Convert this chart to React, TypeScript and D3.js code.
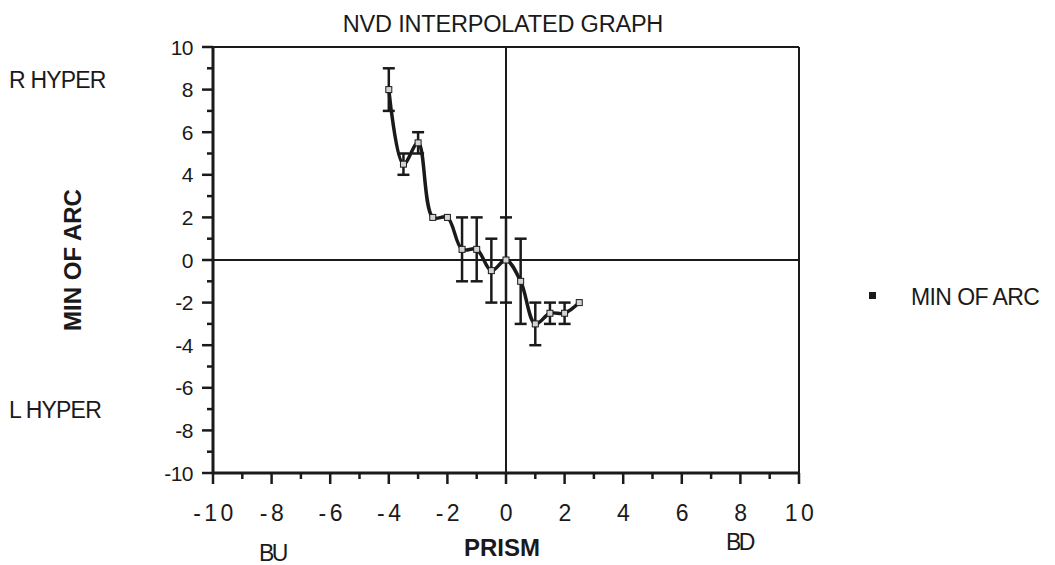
import React from "react";
import * as d3 from "d3";

// PRISM (x) against MIN OF ARC (y), with error ranges
const prism = [-4, -3.5, -3, -2.5, -2, -1.5, -1, -0.5, 0, 0.5, 1, 1.5, 2, 2.5];
const minOfArc = [8, 4.5, 5.5, 2, 2, 0.5, 0.5, -0.5, 0, -1, -3, -2.5, -2.5, -2];
const errHigh = [9, 5, 6, 2, 2, 2, 2, 1, 2, 1, -2, -2, -2, -2];
const errLow = [7, 4, 5, 2, 2, -1, -1, -2, -2, -3, -4, -3, -3, -2];

const xMajorTicks = [-10, -8, -6, -4, -2, 0, 2, 4, 6, 8, 10];
const xMinorTicks = [-9, -7, -5, -3, -1, 1, 3, 5, 7, 9];
const yMajorTicks = [-10, -8, -6, -4, -2, 0, 2, 4, 6, 8, 10];
const yMinorTicks = [-9, -7, -5, -3, -1, 1, 3, 5, 7, 9];

const W = 1055;
const H = 565;
const FONT = "'Liberation Sans', Arial, Helvetica, sans-serif";
const INK = "#1a1a1a";

export default function App() {
  const x = d3.scaleLinear().domain([-10, 10]).range([213, 799]);
  const y = d3.scaleLinear().domain([-10, 10]).range([473, 47]);

  const pts = prism.map((p, i) => ({ x: p, y: minOfArc[i], hi: errHigh[i], lo: errLow[i] }));
  const line = d3
    .line<{ x: number; y: number }>()
    .x((d) => x(d.x))
    .y((d) => y(d.y))
    .curve(d3.curveCatmullRom.alpha(0.5));

  const capHalf = 6;

  return (
    <svg
      width={W}
      height={H}
      style={{ position: "absolute", left: 0, top: 0, background: "#fff" }}
      fontFamily={FONT}
    >
      <rect width={W} height={H} fill="#fff" />

      {/* title */}
      <text x={503} y={32} textAnchor="middle" fontSize={23.5} fill={INK} letterSpacing={-0.2}>
        NVD INTERPOLATED GRAPH
      </text>

      {/* frame */}
      <line x1={x(-10)} x2={x(10)} y1={y(10)} y2={y(10)} stroke={INK} strokeWidth={2} />
      <line x1={x(10)} x2={x(10)} y1={y(10)} y2={y(-10)} stroke={INK} strokeWidth={2} />
      <line x1={x(-10)} x2={x(-10)} y1={y(10) - 1} y2={y(-10) + 1} stroke={INK} strokeWidth={3} />
      <line x1={x(-10) - 1} x2={x(10) + 1} y1={y(-10)} y2={y(-10)} stroke={INK} strokeWidth={3} />

      {/* zero lines */}
      <line x1={x(-10)} x2={x(10)} y1={y(0)} y2={y(0)} stroke={INK} strokeWidth={2} />
      <line x1={x(0)} x2={x(0)} y1={y(10)} y2={y(-10)} stroke={INK} strokeWidth={2} />

      {/* y ticks */}
      {yMajorTicks.map((t) => (
        <g key={"ym" + t}>
          <line x1={x(-10) - 11} x2={x(-10)} y1={y(t)} y2={y(t)} stroke={INK} strokeWidth={2.5} />
          <text x={193} y={y(t) + 7.5} textAnchor="end" fontSize={21} fill={INK} letterSpacing={-0.5}>
            {String(t)}
          </text>
        </g>
      ))}
      {yMinorTicks.map((t) => (
        <line key={"yn" + t} x1={x(-10) - 6} x2={x(-10)} y1={y(t)} y2={y(t)} stroke={INK} strokeWidth={2.5} />
      ))}

      {/* x ticks */}
      {xMajorTicks.map((t) => (
        <g key={"xm" + t}>
          <line x1={x(t)} x2={x(t)} y1={y(-10)} y2={y(-10) + 11} stroke={INK} strokeWidth={2.5} />
          <text x={x(t) + 2} y={521} textAnchor="middle" fontSize={23} fill={INK} letterSpacing={3.5}>
            {String(t)}
          </text>
        </g>
      ))}
      {xMinorTicks.map((t) => (
        <line key={"xn" + t} x1={x(t)} x2={x(t)} y1={y(-10)} y2={y(-10) + 6} stroke={INK} strokeWidth={2.5} />
      ))}

      {/* side labels */}
      <text x={9} y={88} fontSize={23} fill={INK} letterSpacing={-0.8}>R HYPER</text>
      <text x={9} y={418} fontSize={23} fill={INK} letterSpacing={-0.8}>L HYPER</text>
      <text x={259} y={561} fontSize={23} fill={INK} letterSpacing={-2.5}>BU</text>
      <text x={726} y={550} fontSize={23} fill={INK} letterSpacing={-2.5}>BD</text>

      {/* axis titles */}
      <text x={502} y={556} textAnchor="middle" fontSize={24} fontWeight="bold" fill={INK}>
        PRISM
      </text>
      <text
        transform={`translate(81,260) rotate(-90)`}
        textAnchor="middle"
        fontSize={24}
        fontWeight="bold"
        fill={INK}
      >
        MIN OF ARC
      </text>

      {/* error bars */}
      {pts
        .filter((d) => d.hi !== d.lo)
        .map((d, i) => (
          <g key={"e" + i} stroke={INK} strokeWidth={2.5}>
            <line x1={x(d.x)} x2={x(d.x)} y1={y(d.hi)} y2={y(d.lo)} />
            <line x1={x(d.x) - capHalf} x2={x(d.x) + capHalf} y1={y(d.hi)} y2={y(d.hi)} />
            <line x1={x(d.x) - capHalf} x2={x(d.x) + capHalf} y1={y(d.lo)} y2={y(d.lo)} />
          </g>
        ))}

      {/* interpolated curve */}
      <path d={line(pts) ?? ""} fill="none" stroke={INK} strokeWidth={3.5} strokeLinejoin="round" />

      {/* markers */}
      {pts.map((d, i) => (
        <rect
          key={"m" + i}
          x={x(d.x) - 3}
          y={y(d.y) - 3}
          width={6}
          height={6}
          fill="#d4d4d4"
          stroke={INK}
          strokeWidth={1}
        />
      ))}

      {/* legend */}
      <rect x={869} y={292} width={7} height={7} fill={INK} />
      <text x={911} y={305} fontSize={23} fill={INK} letterSpacing={-0.6}>MIN OF ARC</text>
    </svg>
  );
}
